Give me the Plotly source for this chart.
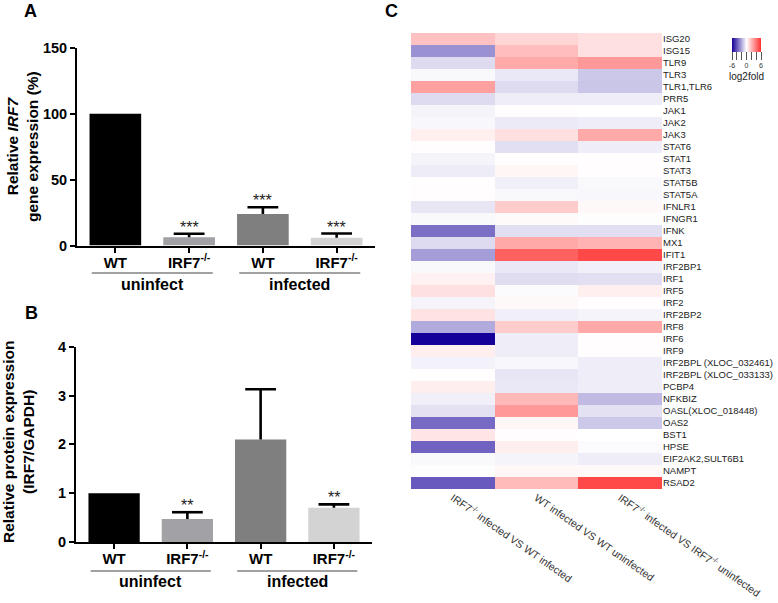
import plotly.graph_objects as go

# ---------------- data ----------------
conditions = ["WT", "IRF7<sup>-/-</sup>", "WT", "IRF7<sup>-/-</sup>"]
groups = ["uninfect", "infected"]
bar_colors = ["#000000", "#a2a2a6", "#7f7f7f", "#d3d3d3"]

mrna_mean = [100, 6.2, 24, 5.8]
mrna_err = [0, 2.7, 5.0, 3.3]
mrna_stars = ["", "***", "***", "***"]

protein_mean = [1.0, 0.47, 2.1, 0.70]
protein_err = [0, 0.14, 1.03, 0.07]
protein_stars = ["", "**", "", "**"]

genes = ["ISG20", "ISG15", "TLR9", "TLR3", "TLR1,TLR6", "PRR5", "JAK1", "JAK2", "JAK3",
         "STAT6", "STAT1", "STAT3", "STAT5B", "STAT5A", "IFNLR1", "IFNGR1", "IFNK", "MX1",
         "IFIT1", "IRF2BP1", "IRF1", "IRF5", "IRF2", "IRF2BP2", "IRF8", "IRF6", "IRF9",
         "IRF2BPL (XLOC_032461)", "IRF2BPL (XLOC_033133)", "PCBP4", "NFKBIZ",
         "OASL(XLOC_018448)", "OAS2", "BST1", "HPSE", "EIF2AK2,SULT6B1", "NAMPT", "RSAD2"]
comparisons = ["IRF7<sup>-/-</sup> infected VS WT infected",
               "WT infected VS WT uninfected",
               "IRF7<sup>-/-</sup> infected VS IRF7<sup>-/-</sup> uninfected"]

ko_vs_wt_inf = [1.8, -2.6, -0.85, -0.15, 2.75, -0.85, -0.25, -0.2, 0.45, 0.05, -0.25, -0.45,
                0.05, 0.05, -0.6, -0.15, -3.4, -0.85, -2.3, -0.15, 0.4, 0.9, -0.25, 0.8,
                -2.0, -6.0, 0.5, -0.3, 0.05, 0.5, -0.35, -0.7, -3.5, 0.75, -3.7, -0.15,
                -0.05, -3.9]
wt_inf_vs_uninf = [1.2, 1.9, 2.5, -0.55, -0.85, -0.4, 0.05, -0.5, 0.9, -0.75, 0.05, 0.25,
                   -0.35, -0.15, 1.5, 0.15, -0.75, 2.5, 4.6, -0.55, -0.8, -0.1, 0.2, -0.35,
                   1.5, -0.4, -0.4, -0.2, -0.6, -0.55, 2.05, 3.0, 0.25, 0.05, 0.5, -0.25,
                   0.25, 2.0]
ko_inf_vs_uninf = [0.9, 0.9, 3.0, -1.3, -1.35, -0.4, 0.0, -0.4, 2.5, -0.4, 0.05, 0.05,
                   -0.15, -0.2, 0.2, -0.05, -0.75, 2.2, 5.3, -0.35, -0.75, 0.45, 0.05, -0.25,
                   2.5, 0.05, 0.05, -0.4, -0.4, -0.4, -1.6, -0.7, -1.3, 0.0, -0.1, -0.4,
                   0.2, 5.3]

colorbar_ticks = [-6, -4, -2, 0, 2, 4, 6]
colorbar_labels = ["-6", "", "", "0", "", "", "6"]

# ---------------- helpers ----------------
W, H = 778, 603
FONT = "Liberation Sans, Arial, sans-serif"


def px_x(p):
    return p / W


def px_y(p):
    return 1 - p / H


fig = go.Figure()


def add_bar_panel(means, errs, xa, ya):
    for i in range(len(means)):
        fig.add_trace(go.Bar(
            x=[i], y=[means[i]], width=0.7, marker=dict(color=bar_colors[i], line=dict(width=0)),
            xaxis=xa, yaxis=ya, showlegend=False, hoverinfo="skip"))
    # upper-only error bars: stem from bar top to mean+err, with a cap
    sx, sy, cx, cy = [], [], [], []
    for i, (m, e) in enumerate(zip(means, errs)):
        if e > 0:
            sx += [i, i, None]
            sy += [m, m + e, None]
            cx.append(i)
            cy.append(m + e)
    fig.add_trace(go.Scatter(x=sx, y=sy, mode="lines", line=dict(color="black", width=2.6),
                             xaxis=xa, yaxis=ya, showlegend=False, hoverinfo="skip"))
    fig.add_trace(go.Scatter(x=cx, y=cy, mode="markers",
                             marker=dict(symbol="line-ew", size=22, color="black",
                                         line=dict(color="black", width=2.6)),
                             xaxis=xa, yaxis=ya, showlegend=False, hoverinfo="skip"))


add_bar_panel(mrna_mean, mrna_err, "x", "y")
add_bar_panel(protein_mean, protein_err, "x2", "y2")

# heatmap
z = [[a, b, c] for a, b, c in zip(ko_vs_wt_inf, wt_inf_vs_uninf, ko_inf_vs_uninf)]
fig.add_trace(go.Heatmap(
    z=z, x=list(range(3)), y=list(range(len(genes))),
    zmin=-6, zmax=6, xaxis="x3", yaxis="y3",
    colorscale=[[0, "#150099"], [0.5, "#ffffff"], [1, "#ff3030"]],
    hoverinfo="skip",
    colorbar=dict(orientation="h", x=px_x(746.5), xanchor="center", y=px_y(37.5), yanchor="top",
                  len=29, lenmode="pixels", thickness=14, thicknessmode="pixels",
                  xpad=0, ypad=0, outlinewidth=0,
                  tickvals=colorbar_ticks, ticktext=colorbar_labels, ticks="outside",
                  ticklen=8, tickwidth=1, tickcolor="#555",
                  tickfont=dict(size=7, color="#333", family=FONT),
                  title=dict(text="log2fold", side="bottom", font=dict(size=10, color="#222", family=FONT)))))

bar_axis_common = dict(showline=True, linewidth=2, linecolor="black", showgrid=False, zeroline=False,
                       ticks="outside", ticklen=5, tickwidth=2, tickcolor="black", automargin=False)

tick_text = ["<b>%s</b>" % c for c in conditions]

fig.update_layout(
    width=W, height=H, margin=dict(l=0, r=0, t=0, b=0, autoexpand=False),
    paper_bgcolor="white", plot_bgcolor="white",
    font=dict(family=FONT, color="black"),
    barmode="overlay",
    xaxis=dict(domain=[px_x(77), px_x(375)], range=[-0.52, 3.52], tickvals=list(range(4)),
               ticktext=tick_text, tickfont=dict(size=15), anchor="y", ticklabelstandoff=-3,
               **bar_axis_common),
    yaxis=dict(domain=[px_y(245.5), px_y(48)], range=[0, 150], tickvals=[0, 50, 100, 150],
               ticktext=["<b>%d</b>" % v for v in [0, 50, 100, 150]], tickfont=dict(size=14.5),
               anchor="x", **bar_axis_common),
    xaxis2=dict(domain=[px_x(76), px_x(372)], range=[-0.52, 3.52], tickvals=list(range(4)),
                ticktext=tick_text, tickfont=dict(size=15), anchor="y2", ticklabelstandoff=-3,
                **bar_axis_common),
    yaxis2=dict(domain=[px_y(542), px_y(346.7)], range=[0, 4], tickvals=[0, 1, 2, 3, 4],
                ticktext=["<b>%d</b>" % v for v in [0, 1, 2, 3, 4]], tickfont=dict(size=14.5),
                anchor="x2", **bar_axis_common),
    xaxis3=dict(domain=[px_x(411), px_x(662)], range=[-0.5, 2.5], tickvals=list(range(3)),
                ticktext=comparisons, tickangle=35, tickfont=dict(size=10.5, color="#333"),
                showline=False, showgrid=False, zeroline=False, ticks="", anchor="y3",
                automargin=False),
    yaxis3=dict(domain=[px_y(489), px_y(33)], range=[len(genes) - 0.5, -0.5],
                tickvals=list(range(len(genes))), ticktext=genes, side="right",
                tickfont=dict(size=9.5, color="#222"), showline=False, showgrid=False,
                zeroline=False, ticks="", anchor="x3", automargin=False),
)

annotations = []
shapes = []
# stars
for i in range(4):
    if mrna_stars[i]:
        annotations.append(dict(x=i, y=mrna_mean[i] + mrna_err[i], xref="x", yref="y",
                                text=mrna_stars[i], showarrow=False, xanchor="center",
                                yanchor="bottom", yshift=-4, font=dict(size=16, color="#222")))
    if protein_stars[i]:
        annotations.append(dict(x=i, y=protein_mean[i] + protein_err[i], xref="x2", yref="y2",
                                text=protein_stars[i], showarrow=False, xanchor="center",
                                yanchor="bottom", yshift=-4, font=dict(size=16, color="#222")))

# group lines and labels
for xr, line_y, lab_y in [("x", 273, 284), ("x2", 571, 581)]:
    for g, (a, b) in enumerate([(-0.32, 1.32), (1.68, 3.32)]):
        shapes.append(dict(type="line", xref=xr, yref="paper", x0=a, x1=b,
                           y0=px_y(line_y), y1=px_y(line_y), line=dict(color="#444", width=1)))
        annotations.append(dict(x=(a + b) / 2, y=px_y(lab_y), xref=xr, yref="paper",
                                text="<b>%s</b>" % groups[g], showarrow=False, xanchor="center",
                                yanchor="middle", font=dict(size=16)))

# axis titles
annotations.append(dict(x=px_x(22), y=px_y(147), xref="paper", yref="paper", textangle=-90,
                        text="<b>Relative <i>IRF7</i></b><br><b>gene expression (%)</b>",
                        showarrow=False, xanchor="center", yanchor="middle", font=dict(size=15.5)))
annotations.append(dict(x=px_x(18), y=px_y(442), xref="paper", yref="paper", textangle=-90,
                        text="<b>Relative protein expression</b><br><b>(IRF7/GAPDH)</b>",
                        showarrow=False, xanchor="center", yanchor="middle", font=dict(size=15.5)))

# panel letters
for letter, (lx, ly) in {"A": (30, 11), "B": (31, 313), "C": (391, 11)}.items():
    annotations.append(dict(x=px_x(lx), y=px_y(ly), xref="paper", yref="paper",
                            text="<b>%s</b>" % letter, showarrow=False, xanchor="center",
                            yanchor="middle", font=dict(size=18)))

fig.update_layout(annotations=annotations, shapes=shapes)

fig.write_html("out.html", config={"displayModeBar": False},
               post_script="document.body.style.margin='0';document.body.style.overflow='hidden';")
